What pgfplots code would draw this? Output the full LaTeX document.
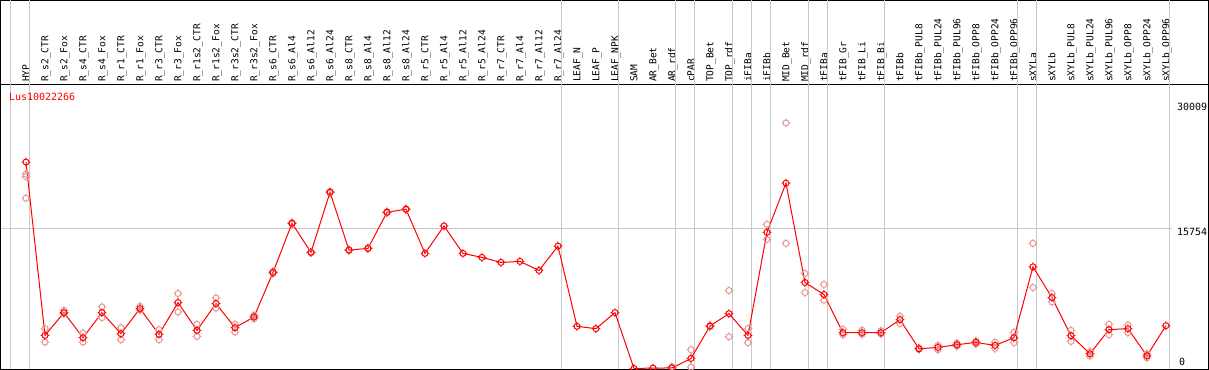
\documentclass[border=0pt]{standalone}
\usepackage{fontspec}
\setmonofont{DejaVu Sans Mono}
\usepackage{pgfplots}
\pgfplotsset{compat=1.18}
\definecolor{gridgray}{RGB}{200,200,200}
\definecolor{reppink}{RGB}{232,150,150}
\pgfdeclareplotmark{tcirc}{%
  \pgfpathcircle{\pgfpointorigin}{\pgfplotmarksize}%
  \pgfpathmoveto{\pgfqpoint{0pt}{\pgfplotmarksize}}\pgfpathlineto{\pgfqpoint{0pt}{1.45\pgfplotmarksize}}%
  \pgfpathmoveto{\pgfqpoint{0pt}{-\pgfplotmarksize}}\pgfpathlineto{\pgfqpoint{0pt}{-1.45\pgfplotmarksize}}%
  \pgfpathmoveto{\pgfqpoint{\pgfplotmarksize}{0pt}}\pgfpathlineto{\pgfqpoint{1.45\pgfplotmarksize}{0pt}}%
  \pgfpathmoveto{\pgfqpoint{-\pgfplotmarksize}{0pt}}\pgfpathlineto{\pgfqpoint{-1.45\pgfplotmarksize}{0pt}}%
  \pgfusepathqstroke}
\begin{document}
\begin{tikzpicture}
\useasboundingbox (0,0) rectangle (1209bp,370bp);
\draw[black, line width=1bp] (0.5bp,0.5bp) rectangle (1208.5bp,369.5bp);
\draw[black, line width=1bp] (0,285.5bp) -- (1209bp,285.5bp);
\begin{axis}[
  at={(7bp,1.5bp)}, anchor=south west,
  scale only axis, width=1197bp, height=283bp,
  xmin=0, xmax=63, ymin=0, ymax=31800,
  axis line style={draw=none}, tick style={draw=none},
  xtick={1,...,61},
  xticklabels={HYP,R\_s2\_CTR,R\_s2\_Fox,R\_s4\_CTR,R\_s4\_Fox,R\_r1\_CTR,R\_r1\_Fox,R\_r3\_CTR,R\_r3\_Fox,R\_r1s2\_CTR,R\_r1s2\_Fox,R\_r3s2\_CTR,R\_r3s2\_Fox,R\_s6\_CTR,R\_s6\_Al4,R\_s6\_Al12,R\_s6\_Al24,R\_s8\_CTR,R\_s8\_Al4,R\_s8\_Al12,R\_s8\_Al24,R\_r5\_CTR,R\_r5\_Al4,R\_r5\_Al12,R\_r5\_Al24,R\_r7\_CTR,R\_r7\_Al4,R\_r7\_Al12,R\_r7\_Al24,LEAF\_N,LEAF\_P,LEAF\_NPK,SAM,AR\_Bet,AR\_rdf,cPAR,TOP\_Bet,TOP\_rdf,iFIBa,iFIBb,MID\_Bet,MID\_rdf,tFIBa,tFIB\_Gr,tFIB\_Li,tFIB\_Bi,tFIBb,tFIBb\_PUL8,tFIBb\_PUL24,tFIBb\_PUL96,tFIBb\_OPP8,tFIBb\_OPP24,tFIBb\_OPP96,sXYLa,sXYLb,sXYLb\_PUL8,sXYLb\_PUL24,sXYLb\_PUL96,sXYLb\_OPP8,sXYLb\_OPP24,sXYLb\_OPP96},
  xticklabel pos=upper,
  xticklabel style={rotate=90, anchor=west, inner sep=0pt, font=\ttfamily\fontsize{9.6}{10}\selectfont, text height=7bp, text depth=0pt},
  xticklabel shift=3.5bp,
  ytick=\empty,
  clip=false,
]
\pgfplotsinvokeforeach{0,1,29,32,35,36,38,39,40,42,43,46,53,54,61}{
  \draw[gridgray, line width=1bp] (axis cs:#1.21,-60) -- (axis cs:#1.21,41500);
}
\draw[gridgray, line width=1bp] (axis cs:-0.33,15754) -- (axis cs:61.3,15754);
\addplot[only marks, mark=tcirc, mark size=3bp, reppink, line width=1bp] coordinates {
(1,21843) (1,21572) (1,19136)
(2,4477) (2,2966) (3,6540) (3,6168) (4,3981) (4,2966) (5,6913) (5,5717)
(6,4590) (6,3236) (7,6991) (7,6540) (8,4364) (8,3236) (9,8424) (9,6349)
(10,4962) (10,3609) (11,7927) (11,6800) (12,4962) (12,4093) (13,5977) (13,5604)
(14,10900) (14,10680) (15,16400) (15,16230) (16,13100) (16,12990) (17,19900) (17,19730)
(18,13350) (18,13260) (19,13550) (19,13450) (20,17620) (20,17500) (21,17950) (21,17840)
(35,200) (36,2109) (36,147) (37,4850) (37,4700) (38,8762) (38,3575)
(39,4477) (39,2898) (40,16204) (40,14513) (41,27594) (41,14062)
(42,10679) (42,8536) (43,9438) (43,7668) (44,4398) (44,3800) (45,4300) (45,3850)
(46,4250) (46,3880) (47,5864) (47,5041) (48,2300) (48,2150) (49,2600) (49,2100)
(50,2850) (50,2500) (51,3100) (51,2750) (52,2950) (52,2250) (53,4060) (53,2898)
(54,14062) (54,9100) (55,8424) (55,7477) (56,4285) (56,3045) (57,1900) (57,1400)
(58,4962) (58,3800) (59,4883) (59,4026) (60,1650) (60,1200)
};
\addplot[red, line width=1bp, mark=tcirc, mark size=3bp, mark options={solid}] coordinates {
(1,23196) (2,3721) (3,6281) (4,3462) (5,6281) (6,3913) (7,6732) (8,3834) (9,7409)
(10,4285) (11,7296) (12,4590) (13,5785) (14,10792) (15,16317) (16,13047) (17,19813)
(18,13306) (19,13498) (20,17557) (21,17896) (22,12934) (23,16013) (24,12934) (25,12483)
(26,11919) (27,12032) (28,11017) (29,13757) (30,4736) (31,4477) (32,6281) (33,0)
(34,50) (35,60) (36,1128) (37,4770) (38,6168) (39,3721) (40,15302) (41,20828)
(42,9664) (43,8311) (44,4026) (45,4026) (46,4026) (47,5492) (48,2221) (49,2368)
(50,2673) (51,2932) (52,2594) (53,3462) (54,11423) (55,7973) (56,3687) (57,1658)
(58,4364) (59,4477) (60,1432) (61,4815)
};
\end{axis}
\node[anchor=west, red, inner sep=0pt, font=\ttfamily\fontsize{10}{11}\selectfont] at (9bp,273bp) {Lus10022266};
\node[anchor=west, black, inner sep=0pt, font=\ttfamily\fontsize{10}{11}\selectfont] at (1177bp,263.3bp) {30009};
\node[anchor=west, black, inner sep=0pt, font=\ttfamily\fontsize{10}{11}\selectfont] at (1177bp,138bp) {15754};
\node[anchor=west, black, inner sep=0pt, font=\ttfamily\fontsize{10}{11}\selectfont] at (1179bp,8bp) {0};
\end{tikzpicture}
\end{document}
